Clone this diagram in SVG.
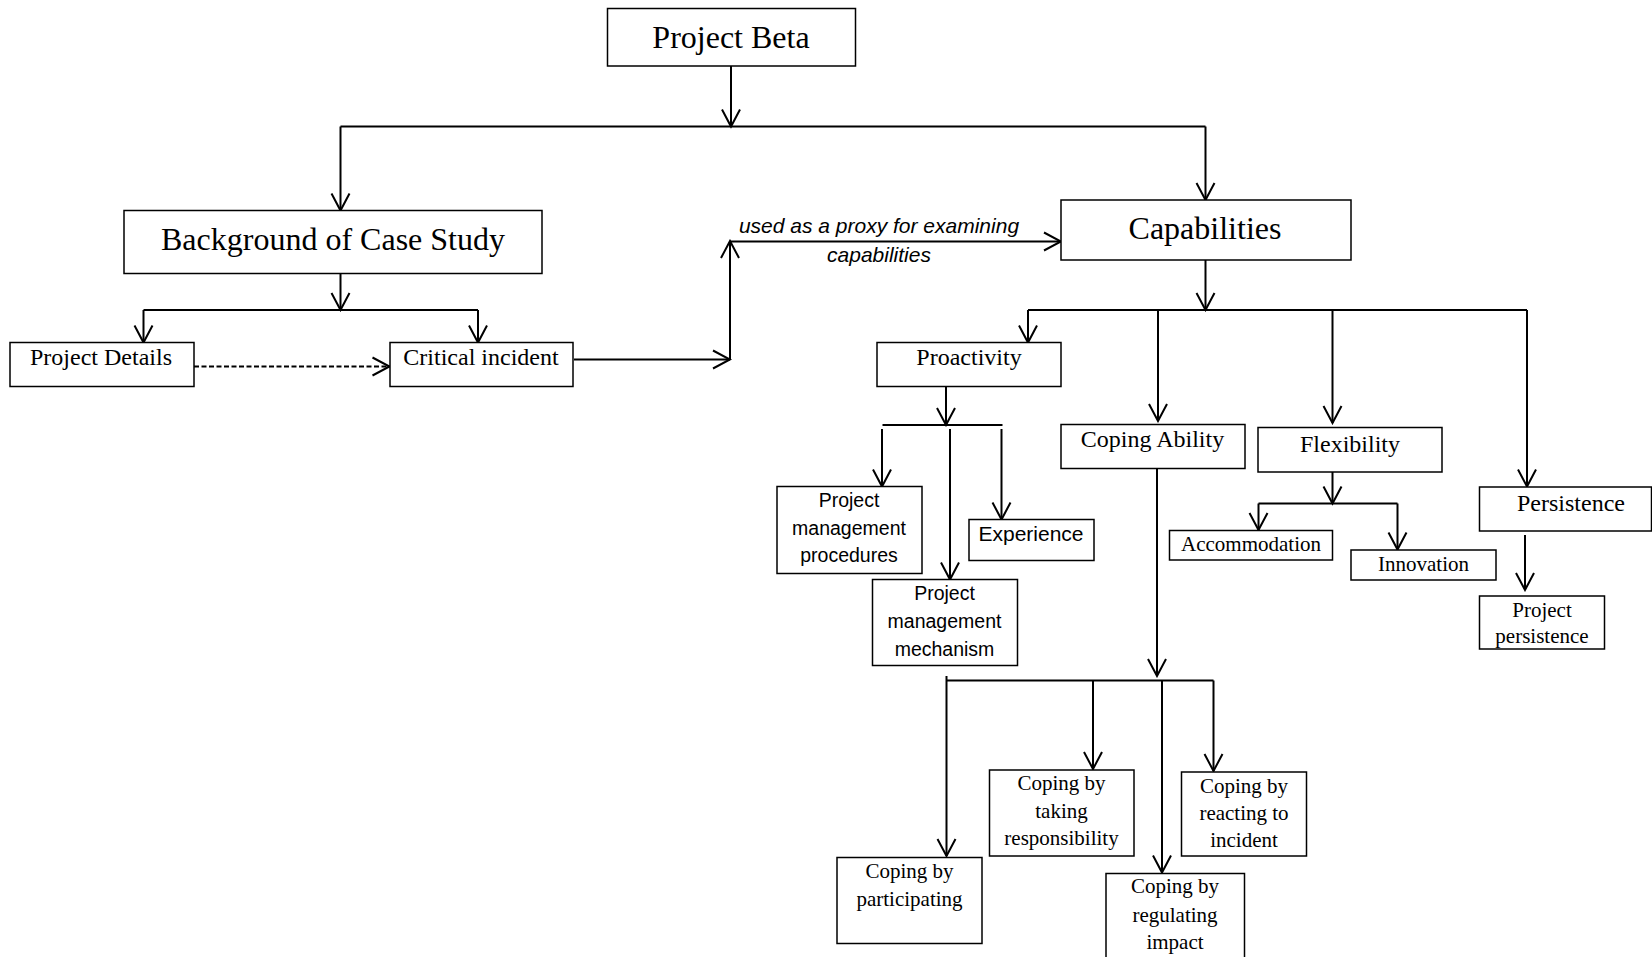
<svg xmlns="http://www.w3.org/2000/svg" width="1652" height="957" viewBox="0 0 1652 957">
<defs>
<marker id="arr" viewBox="-19 -11 21 22" refX="0" refY="0" markerWidth="21" markerHeight="22" markerUnits="userSpaceOnUse" orient="auto">
<path d="M-17,-9 L0,0 L-17,9" fill="none" stroke="#000" stroke-width="2"/>
</marker>
</defs>
<style>
.box{fill:#fff;stroke:#000;stroke-width:1.5}
.serif{font-family:"Liberation Serif","Times New Roman",serif;text-anchor:middle;fill:#000}
.sans{font-family:"Liberation Sans",Arial,sans-serif;text-anchor:middle;fill:#000}
.big{font-size:32px}
.mid{font-size:24px}
.sm{font-size:21px}
.pm{font-size:19.5px}
.conn path{fill:none;stroke:#000;stroke-width:2}
.conn .a{marker-end:url(#arr)}
.dash{stroke-dasharray:5 2.5}
.lbl{font-family:"Liberation Sans",Arial,sans-serif;font-style:italic;font-size:21px;text-anchor:middle;fill:#000}
</style>
<rect x="0" y="0" width="1652" height="957" fill="#fff"/>
<g class="conn" id="connectors">
<path class="a" d="M731 66 V126.5"/>
<path d="M340.5 126.5 H1205.5"/>
<path class="a" d="M340.5 126.5 V210.5"/>
<path class="a" d="M1205.5 126.5 V200"/>
<path class="a" d="M340.5 273.5 V310"/>
<path d="M143.5 310 H478"/>
<path class="a" d="M143.5 310 V342.5"/>
<path class="a" d="M478 310 V342.5"/>
<path class="a dash" d="M194 366.5 H389.5"/>
<path class="a" d="M574 359.5 H730"/>
<path class="a" d="M730 359.5 V241"/>
<path class="a" d="M730 241.5 H1061"/>
<path class="a" d="M1205.5 260 V310"/>
<path d="M1028 310 H1527"/>
<path class="a" d="M1028 310 V342.5"/>
<path class="a" d="M1158 310 V421"/>
<path class="a" d="M1332.5 310 V423"/>
<path class="a" d="M1527 310 V486.5"/>
<path class="a" d="M946 386.5 V425"/>
<path d="M882.5 425 H1002.5"/>
<path class="a" d="M882 429 V486.5"/>
<path class="a" d="M950 429 V579.5"/>
<path class="a" d="M1001.5 429 V519.5"/>
<path class="a" d="M1157 468.5 V676"/>
<path d="M946.5 680.5 H1213.5"/>
<path class="a" d="M946.5 676 V856"/>
<path class="a" d="M1093 680.5 V769"/>
<path class="a" d="M1162 680.5 V872.5"/>
<path class="a" d="M1213.5 680.5 V771"/>
<path class="a" d="M1332.5 472 V503.5"/>
<path d="M1258.5 503.5 H1397.5"/>
<path class="a" d="M1258.5 503.5 V530"/>
<path class="a" d="M1397.5 503.5 V549.5"/>
<path class="a" d="M1525 535 V590"/>
</g>
<g id="edge-label">
<text class="lbl" x="879" y="233">used as a proxy for examining</text>
<text class="lbl" x="879" y="262">capabilities</text>
</g>
<g id="beta"><rect class="box" x="607.5" y="8.5" width="248" height="57.5"/><text class="serif big" x="731" y="48">Project Beta</text></g>
<g id="background"><rect class="box" x="124" y="210.5" width="418" height="63"/><text class="serif big" x="333" y="250">Background of Case Study</text></g>
<g id="details"><rect class="box" x="10" y="342.5" width="184" height="44"/><text class="serif mid" x="101" y="365">Project Details</text></g>
<g id="critical"><rect class="box" x="390" y="342.5" width="183" height="44"/><text class="serif mid" x="481" y="365">Critical incident</text></g>
<g id="capabilities"><rect class="box" x="1061" y="200" width="290" height="60"/><text class="serif big" x="1205" y="239">Capabilities</text></g>
<g id="proactivity"><rect class="box" x="877" y="342.5" width="184" height="44"/><text class="serif mid" x="969" y="365">Proactivity</text></g>
<g id="coping-ability"><rect class="box" x="1061" y="424.5" width="184" height="44"/><text class="serif mid" x="1152.5" y="446.5">Coping Ability</text></g>
<g id="flexibility"><rect class="box" x="1258" y="427.5" width="184" height="44.5"/><text class="serif mid" x="1350" y="451.5">Flexibility</text></g>
<g id="persistence"><rect class="box" x="1479.5" y="487" width="172" height="44"/><text class="serif mid" x="1571" y="511">Persistence</text></g>
<g id="pm-procedures"><rect class="box" x="777" y="486.5" width="145" height="87"/>
<text class="sans pm" x="849" y="507">Project</text>
<text class="sans pm" x="849" y="535">management</text>
<text class="sans pm" x="849" y="562">procedures</text></g>
<g id="experience"><rect class="box" x="969" y="519.5" width="125" height="41"/><text class="sans sm" x="1031" y="541">Experience</text></g>
<g id="pm-mechanism"><rect class="box" x="872.5" y="579.5" width="145" height="86"/>
<text class="sans pm" x="944.5" y="599.5">Project</text>
<text class="sans pm" x="944.5" y="628">management</text>
<text class="sans pm" x="944.5" y="656">mechanism</text></g>
<g id="accommodation"><rect class="box" x="1169.5" y="530.5" width="163" height="29.5"/><text class="serif sm" x="1251" y="550.5">Accommodation</text></g>
<g id="innovation"><rect class="box" x="1351" y="550" width="145" height="30"/><text class="serif sm" x="1423.5" y="570.5">Innovation</text></g>
<g id="project-persistence"><rect class="box" x="1479.5" y="596" width="125" height="53"/>
<text class="serif sm" x="1542" y="617">Project</text>
<text class="serif sm" x="1542" y="643">persistence</text></g>
<g id="coping-participating"><rect class="box" x="837" y="857.5" width="145" height="86"/>
<text class="serif sm" x="909.5" y="878">Coping by</text>
<text class="serif sm" x="909.5" y="906">participating</text></g>
<g id="coping-taking"><rect class="box" x="989.5" y="770" width="144.5" height="86"/>
<text class="serif sm" x="1061.5" y="790">Coping by</text>
<text class="serif sm" x="1061.5" y="818">taking</text>
<text class="serif sm" x="1061.5" y="845">responsibility</text></g>
<g id="coping-regulating"><rect class="box" x="1106" y="873.5" width="138.5" height="100"/>
<text class="serif sm" x="1175" y="893">Coping by</text>
<text class="serif sm" x="1175" y="921.5">regulating</text>
<text class="serif sm" x="1175" y="949">impact</text></g>
<g id="coping-reacting"><rect class="box" x="1181.5" y="772" width="125" height="84"/>
<text class="serif sm" x="1244" y="792.5">Coping by</text>
<text class="serif sm" x="1244" y="820">reacting to</text>
<text class="serif sm" x="1244" y="846.5">incident</text></g>
</svg>
